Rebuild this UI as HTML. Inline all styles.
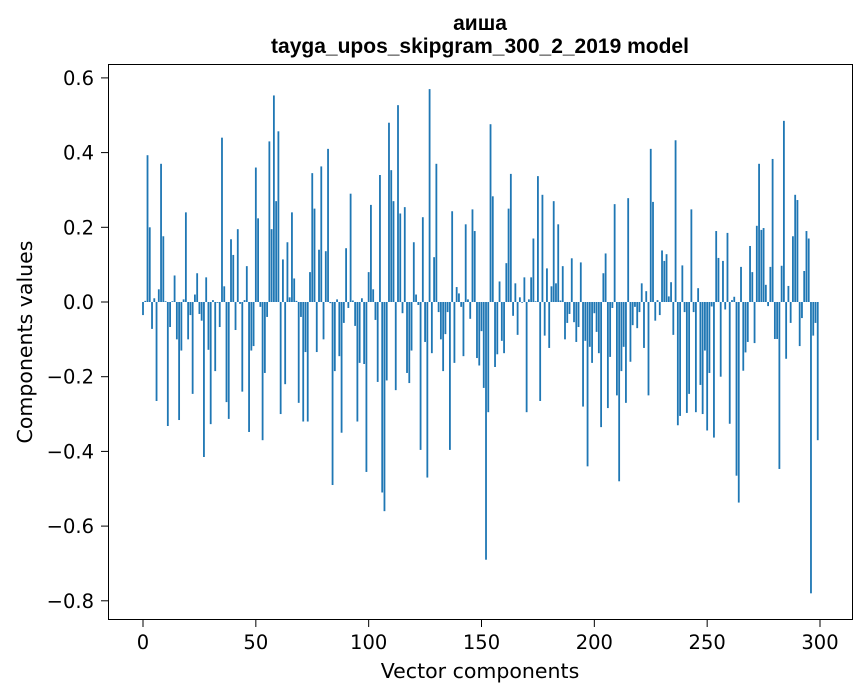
<!DOCTYPE html>
<html><head><meta charset="utf-8">
<style>
html,body{margin:0;padding:0;background:#fff;}
svg{display:block;font-family:"DejaVu Sans","Liberation Sans",sans-serif;}
</style></head>
<body>
<svg id="chart" width="867" height="696" viewBox="0 0 867 696" xmlns="http://www.w3.org/2000/svg">
<rect x="0" y="0" width="867" height="696" fill="#fff"/>
<text x="480" y="30" text-anchor="middle" font-size="21" font-weight="bold" font-family="Liberation Sans, sans-serif">аиша</text>
<text x="480" y="53" text-anchor="middle" font-size="21" font-weight="bold" font-family="Liberation Sans, sans-serif">tayga_upos_skipgram_300_2_2019 model</text>
<g id="bars"></g>
<g id="xticks"></g>
<g id="yticks"></g>
<rect x="108.5" y="64.5" width="744" height="555" fill="none" stroke="#000" stroke-width="1"/>
<text x="480" y="678" text-anchor="middle" font-size="20.5">Vector components</text>
<text x="0" y="0" text-anchor="middle" font-size="20.5" transform="translate(32,342) rotate(-90)">Components values</text>
</svg>
<script>
const values = [
-0.035,0.003,0.393,0.2,-0.072,0.01,-0.265,0.034,0.37,0.176,
0.002,-0.332,-0.067,0.002,0.071,-0.10,-0.316,-0.13,0.007,0.24,
-0.10,-0.035,-0.246,0.02,0.077,-0.032,-0.05,-0.415,0.066,-0.128,
-0.327,0.005,-0.185,-0.002,-0.067,0.44,0.042,-0.268,-0.313,0.168,
0.126,-0.075,0.195,-0.005,-0.24,0.005,0.096,-0.348,-0.13,-0.118,
0.36,0.224,-0.013,-0.37,-0.19,-0.04,0.43,0.195,0.553,0.27,
0.457,-0.30,0.114,-0.22,0.16,0.0125,0.24,0.063,0.003,-0.27,
-0.04,-0.32,-0.134,-0.32,0.08,0.345,0.25,-0.134,0.14,0.363,
-0.10,0.136,0.41,-0.003,-0.49,-0.185,0.007,-0.145,-0.35,-0.056,
0.144,-0.016,0.29,0.004,-0.064,-0.32,-0.163,0.01,-0.166,-0.455,
0.08,0.26,0.034,-0.048,-0.214,0.34,-0.51,-0.56,-0.21,0.48,
0.353,0.27,-0.236,0.527,0.237,-0.03,0.254,-0.19,-0.217,-0.13,
0.16,0.02,-0.008,-0.396,0.227,-0.107,-0.47,0.57,-0.137,0.12,
0.37,-0.027,-0.1,-0.185,-0.086,-0.027,-0.396,0.243,-0.163,0.04,
0.023,-0.013,-0.145,0.208,0.007,-0.045,0.248,0.19,-0.15,-0.17,
-0.078,-0.23,-0.69,-0.295,0.476,0.283,-0.174,-0.14,0.055,-0.104,
-0.137,0.104,0.25,0.343,-0.037,0.05,-0.088,0.0125,-0.002,0.066,
-0.295,0.007,0.066,0.17,0.002,0.337,-0.265,0.287,-0.09,0.09,
-0.123,0.042,0.27,0.05,0.208,0.004,0.096,-0.10,-0.056,-0.032,
0.117,-0.054,-0.107,-0.067,0.106,-0.28,-0.104,-0.44,-0.12,-0.163,
-0.03,-0.08,-0.137,-0.335,0.077,0.13,-0.284,-0.147,-0.016,0.262,
-0.25,-0.48,-0.185,-0.12,-0.27,0.278,-0.16,-0.062,-0.013,-0.07,
-0.027,0.05,-0.123,0.029,-0.25,0.41,0.268,-0.05,0.005,-0.035,
0.138,0.11,0.128,0.015,0.053,-0.088,0.433,-0.33,-0.305,0.098,
-0.027,-0.297,-0.246,0.248,-0.027,-0.295,0.037,-0.222,-0.3,-0.13,
-0.344,-0.19,-0.012,-0.363,0.19,0.118,-0.2,0.11,-0.02,0.185,
-0.326,0.005,0.014,-0.465,-0.537,0.094,-0.184,-0.135,-0.107,0.15,
0.08,-0.11,0.204,0.37,0.193,0.198,0.046,-0.011,0.094,0.383,
-0.099,-0.099,-0.447,0.097,0.485,-0.152,0.043,-0.056,0.176,0.287,
0.273,-0.118,-0.043,0.083,0.19,0.17,-0.78,-0.09,-0.056,-0.37
];
const xTicks = [0,50,100,150,200,250,300];
const yTicks = [-0.8,-0.6,-0.4,-0.2,0.0,0.2,0.4,0.6];
const yTickLabels = ["\u22120.8","\u22120.6","\u22120.4","\u22120.2","0.0","0.2","0.4","0.6"];

const NS = "http://www.w3.org/2000/svg";
function xScale(i){ return 143 + i * (677/300); }
function yScale(v){ return 302 - v * 373.5; }

const barsG = document.getElementById('bars');
const bw = 0.8 * 677/300;
values.forEach(function(v, i){
  const r = document.createElementNS(NS, 'rect');
  const y0 = yScale(0), y1 = yScale(v);
  r.setAttribute('x', xScale(i) - bw/2);
  r.setAttribute('y', Math.min(y0, y1));
  r.setAttribute('width', bw);
  r.setAttribute('height', Math.max(Math.abs(y1 - y0), 0.3));
  r.setAttribute('fill', '#1f77b4');
  
  
  barsG.appendChild(r);
});

const xg = document.getElementById('xticks');
xTicks.forEach(function(t){
  const x = xScale(t);
  const l = document.createElementNS(NS, 'line');
  l.setAttribute('x1', x); l.setAttribute('x2', x);
  l.setAttribute('y1', 620); l.setAttribute('y2', 627);
  l.setAttribute('stroke', '#000');
  
  
  xg.appendChild(l);
  const tx = document.createElementNS(NS, 'text');
  tx.setAttribute('x', x); tx.setAttribute('y', 649);
  tx.setAttribute('text-anchor', 'middle');
  tx.setAttribute('font-size', '19.5');
  tx.textContent = String(t);
  
  
  xg.appendChild(tx);
});

const yg = document.getElementById('yticks');
yTicks.forEach(function(t, k){
  const y = yScale(t);
  const l = document.createElementNS(NS, 'line');
  l.setAttribute('x1', 101); l.setAttribute('x2', 108);
  l.setAttribute('y1', y); l.setAttribute('y2', y);
  l.setAttribute('stroke', '#000');
  
  
  yg.appendChild(l);
  const tx = document.createElementNS(NS, 'text');
  tx.setAttribute('x', 94); tx.setAttribute('y', y + 7);
  tx.setAttribute('text-anchor', 'end');
  tx.setAttribute('font-size', '19.5');
  tx.textContent = yTickLabels[k];
  
  
  yg.appendChild(tx);
});
</script>
</body></html>
